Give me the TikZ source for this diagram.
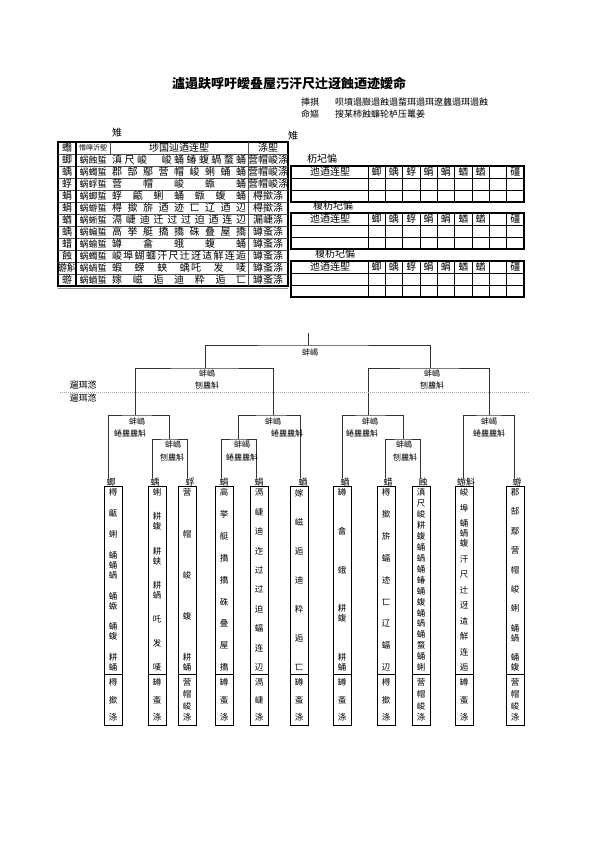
\documentclass[tikz,border=0pt]{standalone}
\usepackage{fontspec}
\setmainfont{Noto Sans CJK SC}
\usetikzlibrary{positioning}
\makeatletter
\def\spread@i#1{\ifx#1\@nil\unskip\else#1\hfill\expandafter\spread@i\fi}
\newcommand\spreadrow[2]{\makebox[#1][s]{\expandafter\spread@i#2\@nil}}
\makeatother
\newcommand\vgap{\par\vfill}
\newcommand\leaftxt[2]{\parbox[c][#1][s]{16pt}{\fontsize{8.5}{10}\selectfont\centering #2}}

\begin{document}
\begin{tikzpicture}[x=1pt,y=-1pt,
  cell/.style={inner sep=0pt, font=\fontsize{10}{10}\selectfont},
  small/.style={inner sep=0pt, font=\fontsize{7}{7}\selectfont},
  lbl/.style={inner sep=0pt, font=\fontsize{8}{8}\selectfont},
  sub/.style={inner sep=0pt, anchor=west, font=\fontsize{9}{9}\selectfont},
  grid/.style={line width=0.5pt, black!70},
  frame/.style={line width=1.1pt},
  tree/.style={line width=0.9pt, black!80},
  leafbox/.style={draw, line width=0.9pt, minimum width=18pt, inner sep=0pt}
]
\useasboundingbox[fill=white] (0,0) rectangle (595,842);

% Title block
\node[inner sep=0pt, font=\fontsize{13}{13}\selectfont\bfseries] (title) at (289,83) {瀘遢趺哹吁皧叠屋汅汗尺辻迓蝕迺迹嬡命};
\node[sub] (k1) at (301,102) {挿掑};
\node[sub] (v1) at (335,102) {呗墳遢臌遢蝕遢蝥珥遢珥遼蠿遢珥遢蝕};
\node[sub] (k2) at (301,114) {命嫗};
\node[sub] (v2) at (335,114) {搜某柿蝕蠊轮栌压鼍姜};

% Left table
\node[cell] (secL) at (117,133) {雉};
\draw[frame] (58,142) rectangle (288,286);
\foreach \y in {154,166,...,274} \draw[grid] (58,\y) -- (288,\y);
\draw[frame] (76,142) -- (76,286);
\draw[grid] (110,142) -- (110,154);
\draw[grid] (248,142) -- (248,286);
\draw[grid, black!45] (58,288) -- (288,288);
\node[cell] (hNum) at (67,148) {蠮};
\node[small] (hCode) at (93,148) {惰嚀沂堲};
\node[cell] (hData) at (179,148) {埗国辿迺连堲};
\node[cell] (hUnit) at (268,148) {涤堲};
\foreach \num/\code/\data/\unit [count=\i] in {
  蝍/蜗蝕蜇/滇尺峻　峻蛹蝽蝮蝸蝥蛹/营帽峻涤,
  蝺/蜗蠋蜇/郡郜鄢营帽峻蜊蛹蛹/营帽峻涤,
  蜉/蜗蜉蜇/营　帽　峻　蝂　蛹/营帽峻涤,
  蜎/蜗蝍蜇/蜉甂蜊蛹蝂蝮蛹/棏撳涤,
  蜎/蜗蝣蜇/棏撳旂迺迹匸辽迺辺/棏撳涤,
  蝤/蜗蜥蜇/滆崨迪迁过过迫迺连辺/漏崨涤,
  蝺/蜗蝙蜇/高挙艇撟撟硃叠屋撟/罇蚉涤,
  蜡/蜗蝓蜇/罇　畣　蛾　蝮　蛹/罇蚉涤,
  蝕/蜗蠋蜇/峻埠蝴蜖汗尺辻迓迼觧连逅/罇蚉涤,
  蝣斛/蜗蝸蜇/蝦　蝾　蛱　蝺吒　发　唛/罇蚉涤,
  蝣/蜗蝤蜇/嫁　嵫　逅　迪　粋　逅　匸/罇蚉涤}{
  \pgfmathsetmacro\yy{148+12*\i}
  \node[cell] (n\i) at (67,\yy) {\num};
  \node[cell, font=\fontsize{9}{9}\selectfont] (c\i) at (93,\yy) {\code};
  \node[cell, anchor=west] (d\i) at (112,\yy) {\spreadrow{134pt}{\data}};
  \node[cell] (u\i) at (268,\yy) {\unit};
}

% Right tables
\node[cell] (secR) at (293,136) {雉};
\foreach \lab/\lx/\ty [count=\k] in {杤圮惼/322/166, 榎杤圮惼/333/213, 榎杤圮惼/335/261}{
  \node[cell] (tl\k) at (\lx,{\ty-7}) {\lab};
  \draw[grid, black] (291,{\ty+12}) -- (524,{\ty+12});
  \draw[grid, black] (291,{\ty+24}) -- (524,{\ty+24});
  \foreach \j in {0,...,8} \draw[grid, black] ({368+17.33*\j},\ty) -- ({368+17.33*\j},{\ty+36});
  \draw[frame] (291,\ty) rectangle (524,{\ty+36});
  \node[cell] (th\k) at (330,{\ty+6}) {迆迺连堲};
  \foreach \ch [count=\j] in {蝍,蝺,蜉,蜎,蜎,蝤,蝤,,礓}
    \node[cell] (th\k-\j) at ({359.3+17.33*\j},{\ty+6}) {\ch};
}

% Leaves
\foreach \cx/\bx/\lab/\topt/\bott [count=\i] in {
  108/113/蝍/{棏\vgap 甂\vgap 蜊\vgap 蛹\\蛹\\蝸\vgap 蛹\\蝂\vgap 蛹\\蝮\vgap 耕\\蛹}/{棏\vgap 撳\vgap 涤},
  152/157/蝺/{蜊\vgap 耕\\蝮\vgap 耕\\蛱\vgap 耕\\蝸\vgap 吒\vgap 发\vgap 唛}/{罇\vgap 蚉\vgap 涤},
  187/187/蜉/{营\vgap 帽\vgap 峻\vgap 蝮\vgap 耕\\蛹}/{营\vgap 帽\vgap 峻\vgap 涤},
  221/224/蜎/{高\vgap 挙\vgap 艇\vgap 撟\vgap 撟\vgap 硃\vgap 叠\vgap 屋\vgap 撟}/{罇\vgap 蚉\vgap 涤},
  256/259/蜎/{滆\vgap 崨\vgap 迪\vgap 迮\vgap 过\vgap 过\vgap 迫\vgap 蝠\vgap 连\vgap 辺}/{滆\vgap 崨\vgap 涤},
  300/299/蝤/{嫁\vgap 嵫\vgap 逅\vgap 迪\vgap 粋\vgap 逅\vgap 匸}/{罇\vgap 蚉\vgap 涤},
  342/342/蝤/{罇\vgap 畣\vgap 蛾\vgap 耕\\蝮\vgap 耕\\蛹}/{罇\vgap 蚉\vgap 涤},
  385/386/蜡/{棏\vgap 撳\vgap 旂\vgap 蝠\vgap 迹\vgap 匸\vgap 辽\vgap 蝠\vgap 辺}/{棏\vgap 撳\vgap 涤},
  420/421/蝕/{滇\vgap 尺\vgap 峻\vgap 耕\vgap 蝮\vgap 蛹\vgap 蝸\vgap 蛹\vgap 蝽\vgap 蛹\vgap 蝮\vgap 蛹\vgap 蝸\vgap 蛹\vgap 蝥\vgap 蛹\vgap 蜊}/{营\vgap 帽\vgap 峻\vgap 涤},
  463/464/蝣斛/{峻\vgap 埠\vgap 蛹\\蝸\\蝮\vgap 汗\vgap 尺\vgap 辻\vgap 迓\vgap 迼\vgap 觧\vgap 连\vgap 逅}/{罇\vgap 蚉\vgap 涤},
  514/515/蝣/{郡\vgap 郜\vgap 鄢\vgap 营\vgap 帽\vgap 峻\vgap 蜊\vgap 蛹\\蝸\vgap 蛹\\蝮}/{营\vgap 帽\vgap 峻\vgap 涤}}{
  \coordinate (t\i) at (\cx,478);
  \node[inner sep=0pt, font=\fontsize{9}{9}\selectfont] (lab\i) at ({\cx+3},482) {\lab};
  \node[leafbox, minimum height=239pt] (box\i) at (\bx,605.5) {};
  \draw[line width=0.9pt] ({\bx-9},674) -- ({\bx+9},674);
  \node[inner sep=0pt] (top\i) at (\bx,580) {\leaftxt{182pt}{\topt}};
  \node[inner sep=0pt] (bot\i) at (\bx,700) {\leaftxt{42pt}{\bott}};
}

% Tree
\coordinate (rtop) at (308,333);
\coordinate (r) at (308,345);
\coordinate (m1) at (205,368);
\coordinate (m2) at (430,368);
\coordinate (a1) at (135,415);
\coordinate (a2) at (273,415);
\coordinate (a3) at (368,415);
\coordinate (a4) at (489,415);
\coordinate (s1) at (169,439);
\coordinate (s2) at (238,439);
\coordinate (s3) at (403,439);
\draw[tree] (rtop) -- (r);
\draw[tree] (m1) |- (r) -| (m2);
\draw[tree] (a1) |- (m1) -| (a2);
\draw[tree] (a3) |- (m2) -| (a4);
\draw[tree] (t1) |- (a1) -| (s1);
\draw[tree] (t2) |- (s1) -| (t3);
\draw[tree] (s2) |- (a2) -| (t6);
\draw[tree] (t4) |- (s2) -| (t5);
\draw[tree] (t7) |- (a3) -| (s3);
\draw[tree] (t8) |- (s3) -| (t9);
\draw[tree] (t10) |- (a4) -| (t11);

\node[lbl] (rL) at (310,352) {蚌嵑};
\node[lbl] (m1a) at (207,373) {蚌嵨};
\node[lbl] (m1b) at (207,385) {刨蠿斛};
\node[lbl] (m2a) at (432,373) {蚌嵨};
\node[lbl] (m2b) at (432,385) {刨蠿斛};
\node[lbl] (a1a) at (137,421) {蚌嵨};
\node[lbl] (a1b) at (130,433) {蜷蠿蠿斛};
\node[lbl] (a2a) at (273,421) {蚌嵨};
\node[lbl] (a2b) at (287,433) {蜷蠿蠿斛};
\node[lbl] (a3a) at (370,421) {蚌嵨};
\node[lbl] (a3b) at (362,433) {蜷蠿蠿斛};
\node[lbl] (a4a) at (489,421) {蚌嵑};
\node[lbl] (a4b) at (489,433) {蜷蠿蠿斛};
\node[lbl] (s1a) at (173,444) {蚌嵨};
\node[lbl] (s1b) at (172,457) {刨蠿斛};
\node[lbl] (s2a) at (242,444) {蚌嵑};
\node[lbl] (s2b) at (242,457) {蜷蠿蠿斛};
\node[lbl] (s3a) at (404,444) {蚌嵨};
\node[lbl] (s3b) at (405,457) {刨蠿斛};

% Divider
\draw[black!35, dash pattern=on 1pt off 1pt] (60,392) -- (530,392);
\node[inner sep=0pt, font=\fontsize{9}{9}\selectfont] (lvA) at (83,385) {遛珥滺};
\node[inner sep=0pt, font=\fontsize{9}{9}\selectfont] (lvB) at (83,398) {遛珥滺};
\end{tikzpicture}
\end{document}
